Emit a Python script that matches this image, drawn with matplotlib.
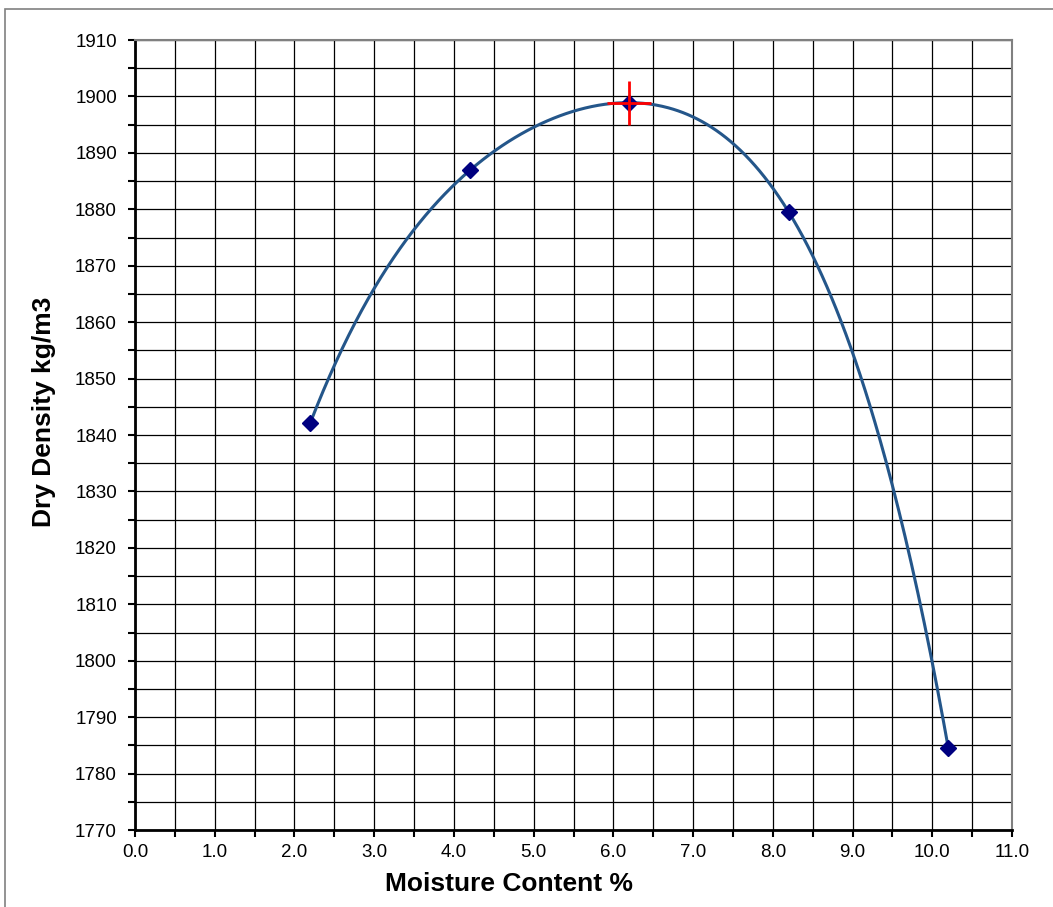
import numpy as np
import matplotlib.pyplot as plt
from matplotlib.patches import Rectangle
from matplotlib.ticker import MultipleLocator, FormatStrFormatter

moisture = [2.2, 4.2, 6.2, 8.2, 10.2]
density = [1842.2, 1886.9, 1898.9, 1879.5, 1784.6]

# 4th order polynomial trendline through the compaction points
coef = np.polyfit(moisture, density, 4)
xs = np.linspace(min(moisture), max(moisture), 400)
ys = np.polyval(coef, xs)
peak_x = xs[np.argmax(ys)]
peak_y = ys.max()

plt.rcParams['font.family'] = ['Liberation Sans', 'DejaVu Sans']

fig = plt.figure(figsize=(10.53, 9.07), dpi=100)
ax = fig.add_axes([135 / 1053, 1 - 830 / 907, 877 / 1053, 790 / 907])

# outer chart border
fig.patches.append(Rectangle((5 / 1053, 1 - 915 / 907), 1.1, 906 / 907, transform=fig.transFigure,
                             fill=False, edgecolor='#808080', linewidth=1.2))

ax.plot(xs, ys, color='#24568a', linewidth=2.2, zorder=3)
ax.plot(moisture, density, linestyle='none', marker='D', markersize=8,
        color='#000080', zorder=4)
ax.plot([peak_x], [peak_y], linestyle='none', marker='+', markersize=31,
        markeredgewidth=2, color='#ff0000', zorder=5)

ax.set_xlim(0, 11)
ax.set_ylim(1770, 1910)
ax.xaxis.set_major_locator(MultipleLocator(1))
ax.xaxis.set_minor_locator(MultipleLocator(0.5))
ax.yaxis.set_major_locator(MultipleLocator(10))
ax.yaxis.set_minor_locator(MultipleLocator(5))
ax.xaxis.set_major_formatter(FormatStrFormatter('%.1f'))

ax.grid(True, which='both', color='black', linewidth=0.9)
ax.set_axisbelow(True)
ax.tick_params(which='both', direction='out', length=5, width=1.5, labelsize=13.5, color='black')
ax.tick_params(axis='x', pad=5)
ax.tick_params(axis='y', pad=8)

for s in ['top', 'right']:
    ax.spines[s].set_color('#808080')
    ax.spines[s].set_linewidth(1.5)
for s in ['left', 'bottom']:
    ax.spines[s].set_color('black')
    ax.spines[s].set_linewidth(2)

fig.text(509 / 1053, 1 - 891 / 907, 'Moisture Content %', fontsize=19, fontweight='bold',
         ha='center', va='baseline')
fig.text(44 / 1053, 1 - 412 / 907, 'Dry Density kg/m3', fontsize=19, fontweight='bold',
         ha='center', va='center', rotation=90)

fig.savefig('out.png', dpi=100)
